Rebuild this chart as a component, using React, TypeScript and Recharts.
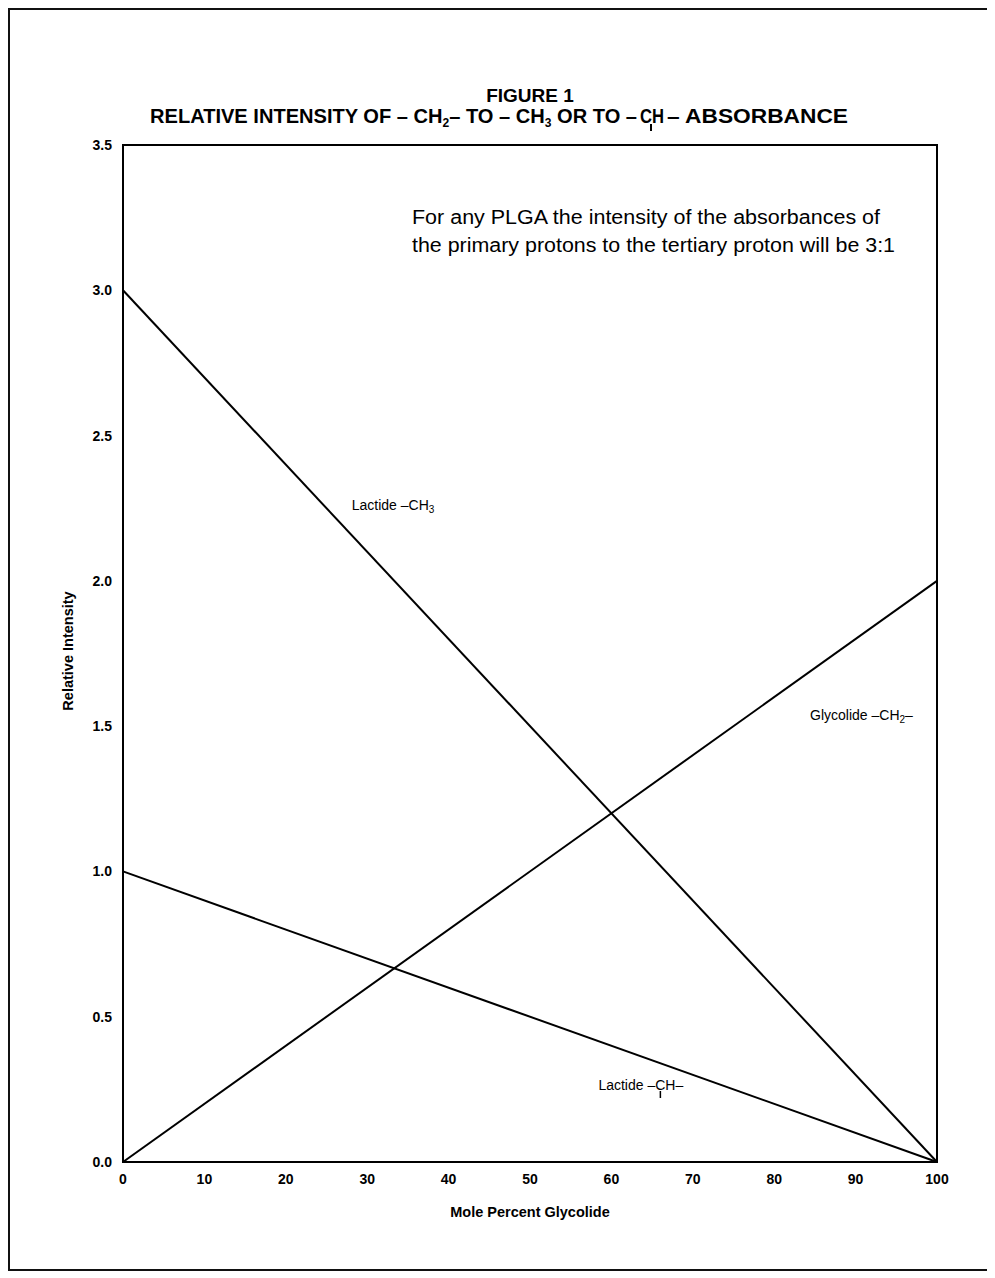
import React from "react";
import {
  Customized,
  Line,
  LineChart,
  ReferenceArea,
  ReferenceDot,
  XAxis,
  YAxis,
} from "recharts";

const molePercent = [0, 100];
const lactideCH3 = [3.0, 0.0];
const glycolideCH2 = [0.0, 2.0];
const lactideCH = [1.0, 0.0];

const xTicks = [0, 10, 20, 30, 40, 50, 60, 70, 80, 90, 100];
const yTicks = [0, 0.5, 1.0, 1.5, 2.0, 2.5, 3.0, 3.5];

const chartData = molePercent.map((m, i) => ({
  mole: m,
  lactideCH3: lactideCH3[i],
  glycolideCH2: glycolideCH2[i],
  lactideCH: lactideCH[i],
}));

const SANS = "'Liberation Sans', Arial, sans-serif";

function Annotations() {
  const titleProps = {
    fontFamily: SANS,
    fontWeight: "bold",
    fontSize: 20,
    fill: "#000",
  };
  return (
    <g>
      <text x={520} y={92} textAnchor="middle" {...titleProps} fontSize={19}>
        FIGURE 1
      </text>
      {/* title line 2 in three pieces so the bond tick sits under the C */}
      <text
        x={140}
        y={113}
        {...titleProps}
        textLength={487}
        lengthAdjust="spacingAndGlyphs"
      >
        RELATIVE INTENSITY OF – CH
        <tspan fontSize={12} dy={4}>2</tspan>
        <tspan dy={-4}>– TO – CH</tspan>
        <tspan fontSize={12} dy={4}>3</tspan>
        <tspan dy={-4}> OR TO –</tspan>
      </text>
      <text
        x={630}
        y={113}
        {...titleProps}
        textLength={24}
        lengthAdjust="spacingAndGlyphs"
      >
        CH
      </text>
      <line x1={641} y1={114} x2={641} y2={121} stroke="#000" strokeWidth={2} />
      <text
        x={657}
        y={113}
        {...titleProps}
        textLength={181}
        lengthAdjust="spacingAndGlyphs"
      >
        {"–  ABSORBANCE"}
      </text>
      <text
        x={63}
        y={641}
        textAnchor="middle"
        transform="rotate(-90 63 641)"
        fontFamily={SANS}
        fontWeight="bold"
        fontSize={14.5}
        fill="#000"
      >
        Relative Intensity
      </text>
      <text
        x={520}
        y={1207}
        textAnchor="middle"
        fontFamily={SANS}
        fontWeight="bold"
        fontSize={14.5}
        fill="#000"
      >
        Mole Percent Glycolide
      </text>
      <text
        x={402}
        y={214}
        fontFamily={SANS}
        fontSize={20}
        fill="#000"
        textLength={468}
        lengthAdjust="spacingAndGlyphs"
      >
        For any PLGA the intensity of the absorbances of
      </text>
      <text
        x={402}
        y={242}
        fontFamily={SANS}
        fontSize={20}
        fill="#000"
        textLength={483}
        lengthAdjust="spacingAndGlyphs"
      >
        the primary protons to the tertiary proton will be 3:1
      </text>
    </g>
  );
}

function labelShape(parts: React.ReactNode, bondOffset?: number) {
  return (props: any) => (
    <g>
      <text
        x={props.cx}
        y={props.cy + 5}
        fontFamily={SANS}
        fontSize={14}
        fill="#000"
      >
        {parts}
      </text>
      {bondOffset !== undefined && (
        <line
          x1={props.cx + bondOffset}
          y1={props.cy + 6}
          x2={props.cx + bondOffset}
          y2={props.cy + 13}
          stroke="#000"
          strokeWidth={1.5}
        />
      )}
    </g>
  );
}

const tickStyle = {
  fill: "#000",
  fontSize: 14,
  fontWeight: "bold",
  fontFamily: SANS,
};

export default function App() {
  return (
    <div
      style={{
        width: 978,
        height: 1259,
        border: "2px solid #111",
        position: "relative",
        background: "#fff",
      }}
    >
      <LineChart
        width={978}
        height={1259}
        data={chartData}
        margin={{ top: 135, right: 51, left: 53, bottom: 57 }}
      >
        <XAxis
          dataKey="mole"
          type="number"
          domain={[0, 100]}
          ticks={xTicks}
          tickLine={false}
          tickSize={0}
          tickMargin={12}
          height={50}
          axisLine={{ stroke: "#000", strokeWidth: 2 }}
          tick={tickStyle}
        />
        <YAxis
          type="number"
          domain={[0, 3.5]}
          ticks={yTicks}
          tickLine={false}
          tickSize={0}
          tickMargin={11}
          width={60}
          axisLine={{ stroke: "#000", strokeWidth: 2 }}
          tickFormatter={(v: number) => v.toFixed(1)}
          tick={tickStyle}
        />
        <ReferenceArea
          x1={0}
          x2={100}
          y1={0}
          y2={3.5}
          fill="none"
          stroke="#000"
          strokeWidth={2}
          fillOpacity={0}
        />
        <Line
          dataKey="lactideCH3"
          type="linear"
          stroke="#000"
          strokeWidth={2}
          dot={false}
          isAnimationActive={false}
        />
        <Line
          dataKey="glycolideCH2"
          type="linear"
          stroke="#000"
          strokeWidth={2}
          dot={false}
          isAnimationActive={false}
        />
        <Line
          dataKey="lactideCH"
          type="linear"
          stroke="#000"
          strokeWidth={2}
          dot={false}
          isAnimationActive={false}
        />
        <ReferenceDot
          x={28.1}
          y={2.26}
          r={0}
          shape={labelShape(
            <>
              Lactide –CH<tspan fontSize={10} dy={3}>3</tspan>
            </>
          )}
        />
        <ReferenceDot
          x={84.4}
          y={1.54}
          r={0}
          shape={labelShape(
            <>
              Glycolide –CH<tspan fontSize={10} dy={3}>2</tspan>
              <tspan dy={-3}>–</tspan>
            </>
          )}
        />
        <ReferenceDot
          x={58.4}
          y={0.265}
          r={0}
          shape={labelShape(<>Lactide –CH–</>, 62)}
        />
        <Customized component={<Annotations />} />
      </LineChart>
    </div>
  );
}
